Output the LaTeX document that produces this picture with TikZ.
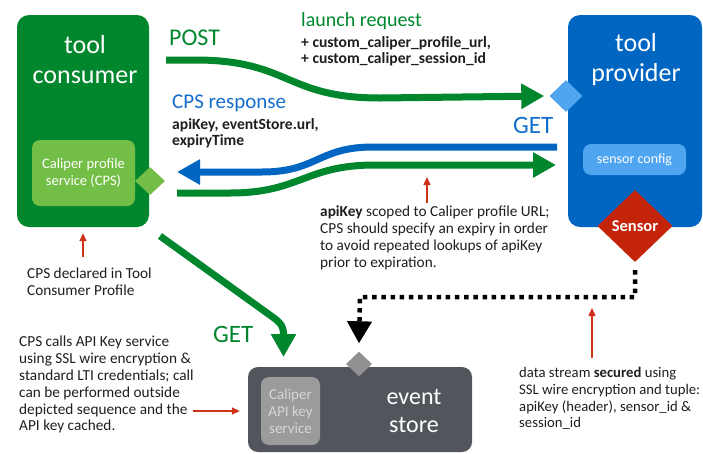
\documentclass[tikz,border=0pt]{standalone}
\usepackage{fontspec}
\setmainfont{Carlito}
\usetikzlibrary{arrows.meta,shapes.geometric}
\definecolor{cgreen}{RGB}{0,135,45}
\definecolor{lgreen}{RGB}{115,190,70}
\definecolor{cblue}{RGB}{0,102,194}
\definecolor{lblue}{RGB}{80,165,240}
\definecolor{sred}{RGB}{196,36,10}
\definecolor{dgray}{RGB}{82,85,91}
\definecolor{mgray}{RGB}{155,155,155}
\definecolor{ltext}{RGB}{215,215,215}
\definecolor{annred}{RGB}{205,50,25}
\definecolor{tblue}{RGB}{20,110,205}
\definecolor{txt}{RGB}{30,30,30}
\begin{document}
\begin{tikzpicture}[x=1pt,y=-1pt,
  bigbox/.style={rectangle, rounded corners=12pt, inner sep=0pt},
  inbox/.style={rectangle, rounded corners=8pt, inner sep=0pt, text=white, align=center},
  dia/.style={diamond, inner sep=0pt},
  title/.style={text=white, align=center, inner sep=0pt, font=\fontsize{26}{30}\selectfont},
  note/.style={text=txt, align=left, inner sep=0pt, font=\fontsize{15.3}{16.8}\selectfont},
  bnote/.style={text=txt, align=left, inner sep=0pt, font=\fontsize{15.6}{16.8}\selectfont\bfseries},
  biglabel/.style={inner sep=0pt, anchor=base west},
  thick arrow/.style={line width=7pt, -{Triangle[length=23pt,width=24pt]}},
  redarrow/.style={draw=annred, line width=1.5pt, -{Triangle[length=8pt,width=7pt]}}
]
\useasboundingbox (0,0) rectangle (703,453);
% boxes
\node[bigbox, fill=cgreen, minimum width=132pt, minimum height=212pt] (tc) at (83,121) {};
\node[title] (tct) at (85,59.5) {tool\\consumer};
\node[inbox, fill=lgreen, minimum width=103pt, minimum height=66pt, font=\fontsize{14.5}{17}\selectfont] (cps) at (83.5,173) {Caliper profile\\service (CPS)};
\node[dia, fill=lgreen, minimum width=30pt, minimum height=28pt] (cpsd) at (150,181) {};

\node[bigbox, fill=cblue, minimum width=134pt, minimum height=212pt] (tp) at (635,121) {};
\node[title] (tpt) at (636,59.5) {tool\\provider};
\node[inbox, fill=lblue, minimum width=103pt, minimum height=31pt, font=\fontsize{14}{17}\selectfont] (sc) at (634.5,159.5) {sensor config};
\node[dia, fill=lblue, minimum width=33pt, minimum height=32pt] (tpd) at (566,96) {};
\node[dia, fill=sred, minimum width=75pt, minimum height=72pt, text=white, font=\fontsize{16.5}{18}\selectfont\bfseries] (sd) at (635,226) {Sensor};

\node[bigbox, rounded corners=10pt, fill=dgray, minimum width=224pt, minimum height=85pt] (es) at (360,409.5) {};
\node[title, font=\fontsize{24}{28}\selectfont] (est) at (414,411) {event\\store};
\node[inbox, fill=mgray, text=ltext, minimum width=59pt, minimum height=68pt, font=\fontsize{15}{17}\selectfont] (api) at (290.5,411) {Caliper\\API key\\service};
\node[dia, fill=mgray!110, minimum width=26pt, minimum height=25pt] (gd) at (359,364) {};

% labels
\node[biglabel, text=cgreen, font=\fontsize{24}{28}\selectfont] (post) at (169,45) {POST};
\node[biglabel, text=cgreen, font=\fontsize{20}{24}\selectfont] (lr) at (301,26) {launch request};
\node[bnote, anchor=north west] (lrp) at (301,36) {+ custom\_caliper\_profile\_url,\\+ custom\_caliper\_session\_id};
\node[biglabel, text=tblue, font=\fontsize{21}{24}\selectfont] (cpsr) at (172,108) {CPS response};
\node[bnote, anchor=north west] (cpsp) at (172,118) {apiKey, eventStore.url,\\expiryTime};
\node[biglabel, text=tblue, font=\fontsize{25}{28}\selectfont] (getb) at (513,133) {GET};
\node[biglabel, text=cgreen, font=\fontsize{25}{28}\selectfont] (getg) at (213,342) {GET};

\node[note, anchor=north west] (n1) at (320,206) {\textbf{apiKey} scoped to Caliper profile URL;\\CPS should specify an expiry in order\\to avoid repeated lookups of apiKey\\prior to expiration.};
\node[note, anchor=north west] (n2) at (27,268) {CPS declared in Tool\\Consumer Profile};
\node[note, anchor=north west] (n3) at (19,336) {CPS calls API Key service\\using SSL wire encryption \&\\standard LTI credentials; call\\can be performed outside\\depicted sequence and the\\API key cached.};
\node[note, anchor=north west, font=\fontsize{14.7}{16.8}\selectfont] (n4) at (519,367) {data stream \textbf{secured} using\\SSL wire encryption and tuple:\\apiKey (header), sensor\_id \&\\session\_id};

% connector coordinates
\coordinate (postS) at (166,60);
\coordinate (respS) at (557,147);
\coordinate (respE) at (177,172);
\coordinate (getS) at (177,193);
\coordinate (getE) at (556,165);
\coordinate (ggS) at (160,236);
\coordinate (ggE) at (283.5,357);

% arrows
\draw[thick arrow, draw=cgreen] (postS) -- (195,60) .. controls (290,60) and (285,98) .. (380,98) -- ([xshift=-5pt]tpd.west);
\draw[thick arrow, draw=cblue] (respS) -- (373,147) .. controls (318,147) and (317,172) .. (262,172) -- (respE);
\draw[thick arrow, draw=cgreen] (getS) -- (230,193) .. controls (300,193) and (305,165) .. (375,165) -- (getE);
\draw[thick arrow, draw=cgreen] (ggS) -- (274,318) .. controls (282,324) and (283.5,328) .. (283.5,334) -- (ggE);
\draw[line width=4.5pt, dash pattern=on 4.5pt off 4.7pt, -{Triangle[length=22pt,width=24pt]}] ([yshift=-8pt]sd.south) |- (360,297) -- ([yshift=8pt]gd.north);

% annotation arrows
\draw[redarrow] (83,257) -- ([yshift=-6pt]tc.south);
\draw[redarrow] (427,203) -- (427,177);
\draw[redarrow] (592,358) -- (592,308);
\draw[redarrow] (193,411) -- ([xshift=-8pt]es.west |- 0,411);
\end{tikzpicture}
\end{document}
